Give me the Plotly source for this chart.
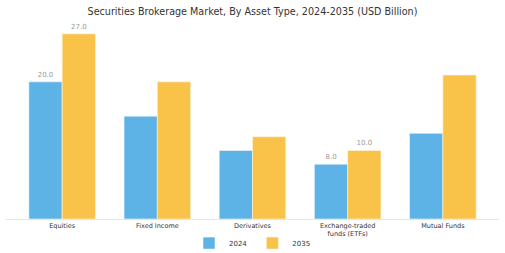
import plotly.graph_objects as go

categories = ["Equities", "Fixed Income", "Derivatives", "Exchange-traded<br>funds (ETFs)", "Mutual Funds"]
values_2024 = [20.0, 15.0, 10.0, 8.0, 12.5]
values_2035 = [27.0, 20.0, 12.0, 10.0, 21.0]
label_2024 = ["20.0", "", "", "8.0", ""]
label_2035 = ["27.0", "", "", "10.0", ""]

fig = go.Figure()
fig.add_trace(go.Bar(x=categories, y=values_2024, name="2024", marker=dict(color="#5DB3E6", line=dict(color="#F4F8FB", width=0.6)),
                     text=label_2024, textposition="outside", textfont=dict(size=7, color="#999999"), cliponaxis=False))
fig.add_trace(go.Bar(x=categories, y=values_2035, name="2035", marker=dict(color="#F9C34A", line=dict(color="#FBF4E2", width=0.6)),
                     text=label_2035, textposition="outside", textfont=dict(size=7, color="#999999"), cliponaxis=False))

fig.update_layout(
    width=505, height=253,
    margin=dict(l=6, r=6, t=27, b=34, autoexpand=False),
    paper_bgcolor="white", plot_bgcolor="white",
    font=dict(family="DejaVu Sans", color="#333333"),
    title=dict(text="Securities Brokerage Market, By Asset Type, 2024-2035 (USD Billion)", x=0.5, xanchor="center",
               y=0.955, yanchor="middle", font=dict(size=9.6, color="#333333")),
    barmode="group", bargap=0.30, bargroupgap=0,
    showlegend=True,
    legend=dict(orientation="h", x=0.5, xanchor="center", y=-0.05, yanchor="top", font=dict(size=7, color="#333333"),
                itemwidth=30, tracegroupgap=0),
    uniformtext=dict(mode=False),
)
fig.update_xaxes(range=[-0.59, 4.59], showline=True, linecolor="#E6E6E6", linewidth=1, ticks="",
                 tickfont=dict(size=6.5, color="#333333"), showgrid=False)
fig.update_yaxes(range=[0, 28], visible=False, showgrid=False)

fig.write_html("out.html")
